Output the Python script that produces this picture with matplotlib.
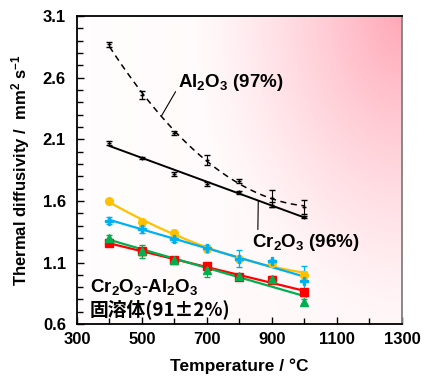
import numpy as np
import matplotlib
matplotlib.use("Agg")
import matplotlib.pyplot as plt
from matplotlib.ticker import MultipleLocator

plt.rcParams['font.family'] = ['Liberation Sans', 'Noto Sans CJK JP', 'DejaVu Sans']
plt.rcParams['font.weight'] = 'bold'
plt.rcParams['mathtext.fontset'] = 'custom'
plt.rcParams['mathtext.rm'] = 'Liberation Sans:bold'
plt.rcParams['mathtext.it'] = 'Liberation Sans:bold'
plt.rcParams['mathtext.bf'] = 'Liberation Sans:bold'

# data
temp = [400, 500, 600, 700, 800, 900, 1000]

al2o3 = [2.87, 2.46, 2.15, 1.93, 1.76, 1.62, 1.55]
al2o3_err = [0.02, 0.03, 0.015, 0.04, 0.015, 0.07, 0.06]
cr2o3 = [2.07, 1.95, 1.82, 1.74, 1.67, 1.57, 1.47]
cr2o3_err = [0.015, 0.01, 0.015, 0.015, 0.01, 0.02, 0.01]

yellow = [1.60, 1.43, 1.34, 1.21, 1.13, 1.10, 1.00]
yellow_err = [0.01, 0.02, 0.02, 0.02, 0.02, 0.01, 0.03]
blue = [1.44, 1.37, 1.29, 1.22, 1.13, 1.11, 0.95]
blue_err = [0.03, 0.03, 0.02, 0.02, 0.07, 0.01, 0.12]
red = [1.26, 1.19, 1.12, 1.07, 0.98, 0.96, 0.86]
red_err = [0.01, 0.03, 0.02, 0.02, 0.01, 0.01, 0.01]
green = [1.30, 1.19, 1.12, 1.04, 0.99, 0.97, 0.78]
green_err = [0.02, 0.05, 0.02, 0.06, 0.02, 0.02, 0.02]

x_ticks = [300, 500, 700, 900, 1100, 1300]
y_ticks = [0.6, 1.1, 1.6, 2.1, 2.6, 3.1]

fig = plt.figure(figsize=(4.34, 3.76), dpi=100)
ax = fig.add_axes([0.1774, 0.138, 0.7486, 0.819])

# pink gradient background, strongest at the top right corner
gx, gy = np.meshgrid(np.linspace(0, 1, 200), np.linspace(0, 1, 200))
d = np.sqrt(((1 - gx) / 0.65) ** 2 + ((1 - gy) / 1.0) ** 2)
t = np.clip(1 - d, 0, 1) ** 1.3
t = 0.02 + 0.08 * gx + 0.9 * t
pink = np.array([1.0, 0.66, 0.72])
img = np.ones((200, 200, 3)) * (1 - t[..., None]) + pink * t[..., None]
ax.imshow(img, extent=[300, 1300, 0.6, 3.1], origin='lower', aspect='auto', zorder=0)

tt = np.array(temp)
xs = np.linspace(400, 1000, 100)

# black series
ax.errorbar(temp, al2o3, yerr=al2o3_err, fmt='+', ms=3, color='black', ecolor='black',
            elinewidth=0.8, capsize=2, zorder=3)
c = np.polyfit(tt, al2o3, 2)
ax.plot(xs, np.polyval(c, xs), '--', color='black', lw=1.1, dashes=(4, 3), zorder=2)

ax.errorbar(temp, cr2o3, yerr=cr2o3_err, fmt='+', ms=3, color='black', ecolor='black',
            elinewidth=0.8, capsize=2, zorder=3)
c = np.polyfit(tt, cr2o3, 1)
ax.plot(xs, np.polyval(c, xs), '-', color='black', lw=1.4, zorder=2)

# coloured series
series = [
    (yellow, yellow_err, '#FFC000', 'o', 2),
    (blue, blue_err, '#00B0F0', 'P', 1),
    (red, red_err, '#FF0000', 's', 1),
    (green, green_err, '#00B050', '^', 1),
]
xs2 = np.linspace(400, 1005, 100)
for vals, err, col, mk, deg in series:
    ax.errorbar(temp, vals, yerr=err, fmt=mk, ms=5.5, color=col, ecolor=col,
                elinewidth=0.9, capsize=2.5, zorder=3)
    c = np.polyfit(tt, vals, deg)
    ax.plot(xs2, np.polyval(c, xs2), '-', color=col, lw=1.6, zorder=2)

# labels
ax.annotate('Al$_2$O$_3$ (97%)', xy=(560, 2.29), xytext=(612, 2.56),
            fontsize=13.5, fontweight='bold', ha='left', va='center',
            arrowprops=dict(arrowstyle='-', color='black', lw=0.8, shrinkA=0, shrinkB=0,
                            relpos=(0, 0.3)))
ax.annotate('Cr$_2$O$_3$ (96%)', xy=(858, 1.60), xytext=(840, 1.26),
            fontsize=13.5, fontweight='bold', ha='left', va='center',
            arrowprops=dict(arrowstyle='-', color='black', lw=0.8, shrinkA=0, shrinkB=0,
                            relpos=(0.05, 1.0)))
ax.text(340, 0.905, 'Cr$_2$O$_3$-Al$_2$O$_3$', fontsize=13.5, fontweight='bold', va='center')
ax.text(338, 0.72, '固溶体(91±2%)', fontsize=13.5, fontweight='bold', va='center',
        family=['Noto Sans CJK JP', 'DejaVu Sans'])

ax.set_xlim(300, 1300)
ax.set_ylim(0.6, 3.1)
ax.set_xticks(x_ticks)
ax.xaxis.set_minor_locator(MultipleLocator(100))
ax.set_yticks(y_ticks)
ax.set_yticklabels([f'{v:.1f}' for v in y_ticks])
ax.yaxis.set_minor_locator(MultipleLocator(0.1))
ax.tick_params(which='both', direction='in', labelsize=12, width=1.0)
ax.tick_params(which='major', length=5, pad=8)
ax.tick_params(axis='x', which='major', pad=6)
ax.tick_params(which='minor', length=4)
for lab in ax.get_xticklabels() + ax.get_yticklabels():
    lab.set_fontweight('bold')

for s in ['left', 'bottom', 'top']:
    ax.spines[s].set_linewidth(1.3)
ax.spines['right'].set_color('#808080')
ax.spines['right'].set_linewidth(1.3)

ax.set_xlabel('Temperature / °C', fontsize=12.5, fontweight='bold', labelpad=8)
ax.set_ylabel('Thermal diffusivity /  mm$^2$ s$^{-1}$', fontsize=12, fontweight='bold', labelpad=8)

fig.savefig('out.png', dpi=100)
